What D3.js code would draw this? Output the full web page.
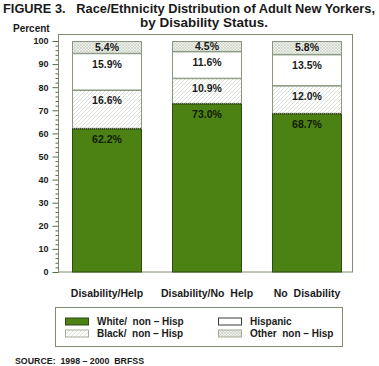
<!DOCTYPE html>
<html><head><meta charset="utf-8">
<script src="https://cdn.jsdelivr.net/npm/d3@7"></script>
<style>body{margin:0;background:#fff}svg{display:block}text{font-family:"Liberation Sans",Arial,sans-serif;font-weight:bold;white-space:pre}</style>
</head><body>
<script>
const categories = ["Disability/Help", "Disability/No Help", "No Disability"];
const seriesNames = ["White/  non \u2013 Hisp", "Black/  non \u2013 Hisp", "Hispanic", "Other  non \u2013 Hisp"];
const white = [62.2, 73.0, 68.7];
const black = [16.6, 10.9, 12.0];
const hispanic = [15.9, 11.6, 13.5];
const other = [5.4, 4.5, 5.8];
const yTicks = [0, 10, 20, 30, 40, 50, 60, 70, 80, 90, 100];

const W = 379, H = 366;
const svg = d3.select("body").append("svg").attr("width", W).attr("height", H);
const defs = svg.append("defs");
const hatch = defs.append("pattern").attr("id", "hatch").attr("patternUnits", "userSpaceOnUse")
  .attr("width", 4).attr("height", 4);
hatch.append("rect").attr("width", 4).attr("height", 4).attr("fill", "#fff");
hatch.append("path").attr("d", "M0,4 L4,0 M-1,1 L1,-1 M3,5 L5,3").attr("stroke", "#d4d8d0").attr("stroke-width", 0.8);
const cross = defs.append("pattern").attr("id", "cross").attr("patternUnits", "userSpaceOnUse")
  .attr("width", 3).attr("height", 3);
cross.append("rect").attr("width", 3).attr("height", 3).attr("fill", "#eef0ea");
cross.append("path").attr("d", "M0,0 L3,3 M3,0 L0,3").attr("stroke", "#c4cabd").attr("stroke-width", 0.6);

const fills = ["#4c8214", "url(#hatch)", "#ffffff", "url(#cross)"];
const seriesVals = [white, black, hispanic, other];

const x = d3.scaleBand().domain(categories).range([57, 357]).paddingInner(0.3).paddingOuter(0.15);
const y = d3.scaleLinear().domain([0, 100]).range([272, 41]);

// title
svg.append("text").attr("x", 3).attr("y", 13).attr("font-size", 12.5).style("fill", "#1a1a1a")
  .attr("textLength", 372).attr("lengthAdjust", "spacingAndGlyphs")
  .text("FIGURE 3.   Race/Ethnicity Distribution of Adult New Yorkers,");
svg.append("text").attr("x", 140).attr("y", 27).attr("font-size", 13).style("fill", "#1a1a1a")
  .attr("textLength", 128).attr("lengthAdjust", "spacingAndGlyphs")
  .text("by Disability Status.");
svg.append("text").attr("x", 13).attr("y", 32).attr("font-size", 10).style("fill", "#1a1a1a").text("Percent");

// frame
svg.append("rect").attr("x", 58.5).attr("y", 34.5).attr("width", 294).attr("height", 237.5)
  .attr("fill", "none").attr("stroke", "#7d8c70").attr("stroke-width", 1);

// bars
const stack = d3.stack().keys([0, 1, 2, 3]).value((d, k) => seriesVals[k][d]);
const layers = stack(categories.map((c, i) => i));
layers.forEach((layer, k) => {
  layer.forEach((seg, i) => {
    const y0 = y(seg[0]), y1 = y(Math.min(seg[1], 100));
    svg.append("rect").attr("x", x(categories[i]) + 0.5).attr("y", y1 + 0.5)
      .attr("width", x.bandwidth() - 1).attr("height", Math.max(0, y0 - y1 - 0.5))
      .attr("fill", fills[k]).attr("stroke", k === 0 ? "#2f4a10" : "#8a9880").attr("stroke-width", 1);
  });
});
// dotted boundary on top of white segments
layers[0].forEach((seg, i) => {
  svg.append("line").attr("x1", x(categories[i])).attr("x2", x(categories[i]) + x.bandwidth())
    .attr("y1", y(seg[1]) + 0.5).attr("y2", y(seg[1]) + 0.5)
    .attr("stroke", "#1e2a10").attr("stroke-dasharray", "1,1");
});
// labels
const labelG = svg.append("g");
layers.forEach((layer, k) => {
  layer.forEach((seg, i) => {
    const top = y(Math.min(seg[1], 100)), h = y(seg[0]) - top;
    const cy = top + Math.min(10.5, h / 2);
    labelG.append("text").attr("x", x(categories[i]) + x.bandwidth() / 2).attr("y", cy)
      .attr("dy", "0.36em").attr("text-anchor", "middle").attr("font-size", 10.5)
      .style("fill", k === 0 ? "#101a06" : "#1a1a1a")
      .text(d3.format(".1f")(seriesVals[k][i]) + "%");
  });
});

// y axis
const minor = d3.range(0, 101, 2).filter(v => v % 10 !== 0);
svg.append("g").attr("transform", "translate(58.5,0)")
  .call(d3.axisLeft(y).tickValues(minor).tickSize(3).tickFormat(""))
  .call(g => g.select(".domain").remove())
  .call(g => g.selectAll("line").attr("stroke", "#5a6a4a"));
svg.append("g").attr("transform", "translate(58.5,0)")
  .call(d3.axisLeft(y).tickValues(yTicks).tickSize(6).tickPadding(4))
  .call(g => g.select(".domain").remove())
  .call(g => g.selectAll("line").attr("stroke", "#5a6a4a"))
  .call(g => g.selectAll("text").attr("font-size", 9).style("fill", "#1a1a1a")
    .style("font-family", "'Liberation Sans',Arial,sans-serif").style("font-weight", "bold"));

// category labels
categories.forEach(c => {
  svg.append("text").attr("x", x(c) + x.bandwidth() / 2).attr("y", 297).attr("text-anchor", "middle")
    .attr("font-size", 10.5).style("fill", "#1a1a1a").text(c.replace("No Help", "No  Help").replace("No Disability", "No  Disability"));
});

// legend
svg.append("rect").attr("x", 55.5).attr("y", 307.5).attr("width", 287).attr("height", 39)
  .attr("fill", "none").attr("stroke", "#7d8c70");
const legPos = [[65, 321.5], [65, 333.5], [218, 321.5], [218, 333.5]];
seriesNames.forEach((n, k) => {
  const [lx, ly] = legPos[k];
  svg.append("rect").attr("x", lx + 0.5).attr("y", ly - 3.5).attr("width", 23).attr("height", 7)
    .attr("fill", fills[k]).attr("stroke", k === 0 ? "#2f4a10" : (k === 2 ? "#3a3a3a" : "#a4ac9a"));
  svg.append("text").attr("x", lx + 32).attr("y", ly).attr("dy", "0.36em").attr("font-size", 10)
    .style("fill", "#1a1a1a").text(n);
});

svg.append("text").attr("x", 15).attr("y", 364).attr("font-size", 8.8).style("fill", "#1a1a1a")
  .text("SOURCE:  1998 \u2013 2000  BRFSS");
</script>
</body></html>
